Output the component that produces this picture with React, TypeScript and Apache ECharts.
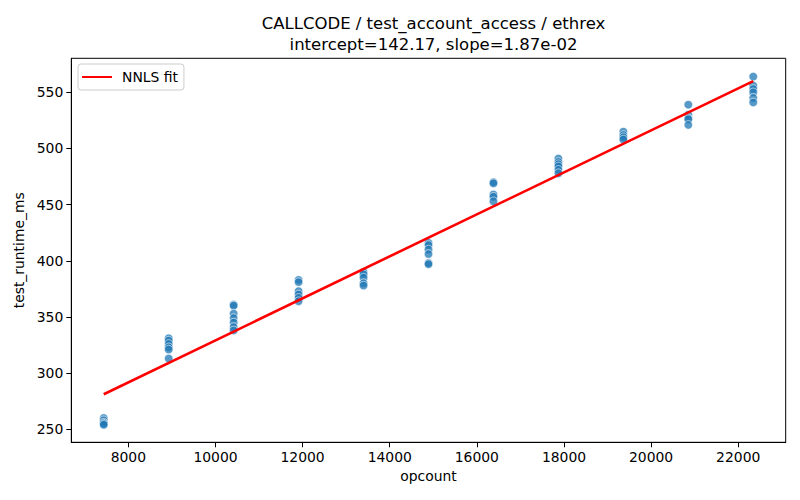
import React, { useEffect, useRef } from "react";
import * as echarts from "echarts";

// opcount levels (x) and measured runtimes (ms) at each level
const opcounts = [7435, 8926, 10417, 11908, 13399, 14890, 16381, 17872, 19363, 20854, 22345];
const runtimes: number[][] = [
  [260, 258, 256, 255, 254],
  [331, 329, 326, 323, 321, 313],
  [361, 360, 353, 349, 345, 341, 338],
  [383, 381, 373, 370, 367, 364],
  [390, 388, 385, 380, 378],
  [416, 414, 410, 406, 398, 397],
  [470, 469, 459, 457, 453],
  [491, 488, 486, 484, 481, 478],
  [515, 512, 510, 508],
  [539, 530, 527, 526, 521],
  [564, 556, 553, 550, 545, 541],
];
const intercept = 142.17;
const slope = 1.87e-2;
const xTicks = [8000, 10000, 12000, 14000, 16000, 18000, 20000, 22000];
const yTicks = [250, 300, 350, 400, 450, 500, 550];

const FONT = "DejaVu Sans";

export default function App() {
  const ref = useRef<HTMLDivElement>(null);
  useEffect(() => {
    document.body.style.margin = "0";
    if (!ref.current) return;
    const chart = echarts.init(ref.current, undefined, { renderer: "svg" });
    const scatterData: number[][] = [];
    opcounts.forEach((x, i) => runtimes[i].forEach((y) => scatterData.push([x, y])));
    const xFirst = opcounts[0];
    const xLast = opcounts[opcounts.length - 1];
    const fitData = [
      [xFirst, intercept + slope * xFirst],
      [xLast, intercept + slope * xLast],
    ];
    chart.setOption({
      animation: false,
      backgroundColor: "#fff",
      textStyle: { fontFamily: FONT },
      title: {
        text: "CALLCODE / test_account_access / ethrex\nintercept=142.17, slope=1.87e-02",
        left: 428.5,
        textAlign: "center",
        top: 8,
        textStyle: { fontFamily: FONT, fontSize: 16.5, fontWeight: "normal", color: "#000", lineHeight: 21 },
      },
      grid: {
        left: 71.3,
        right: 14.3,
        top: 58.3,
        bottom: 57.7,
        show: true,
        borderColor: "#000",
        borderWidth: 1,
        backgroundColor: "transparent",
      },
      legend: {
        left: 78,
        top: 64,
        padding: [6, 6, 6, 4],
        borderColor: "#cccccc",
        borderWidth: 1,
        borderRadius: 3,
        backgroundColor: "rgba(255,255,255,0.8)",
        itemWidth: 30,
        itemHeight: 2,
        itemGap: 10,
        data: [{ name: "NNLS fit", icon: "rect" }],
        textStyle: { fontFamily: FONT, fontSize: 13.9, color: "#000", padding: [0, 0, 0, 5] },
      },
      xAxis: {
        type: "value",
        min: 6690,
        max: 23090,
        name: "opcount",
        nameLocation: "middle",
        nameGap: 27,
        nameTextStyle: { fontFamily: FONT, fontSize: 13.9, color: "#000" },
        axisLine: { show: true, onZero: false, lineStyle: { color: "#000", width: 1 } },
        axisTick: { show: true, length: 5, lineStyle: { color: "#000" }, customValues: xTicks },
        axisLabel: {
          fontFamily: FONT,
          fontSize: 13.9,
          color: "#000",
          margin: 8,
          customValues: xTicks,
          formatter: (v: number) => String(v),
        },
        splitLine: { show: false },
      },
      yAxis: {
        type: "value",
        min: 238.4,
        max: 580.3,
        name: "test_runtime_ms",
        nameLocation: "middle",
        nameGap: 42,
        nameTextStyle: { fontFamily: FONT, fontSize: 13.9, color: "#000" },
        axisLine: { show: true, onZero: false, lineStyle: { color: "#000", width: 1 } },
        axisTick: { show: true, length: 5, lineStyle: { color: "#000" }, customValues: yTicks },
        axisLabel: {
          fontFamily: FONT,
          fontSize: 13.9,
          color: "#000",
          margin: 8,
          customValues: yTicks,
          formatter: (v: number) => String(v),
        },
        splitLine: { show: false },
      },
      series: [
        {
          type: "scatter",
          name: "points",
          data: scatterData,
          symbolSize: 8.5,
          itemStyle: { color: "#1f77b4", opacity: 0.75, borderColor: "#fff", borderWidth: 0.8 },
          z: 2,
        },
        {
          type: "line",
          name: "NNLS fit",
          data: fitData,
          showSymbol: false,
          symbol: "none",
          lineStyle: { color: "#ff0000", width: 2.6 },
          itemStyle: { color: "#ff0000" },
          z: 3,
        },
      ],
    });
    return () => chart.dispose();
  }, []);
  return <div ref={ref} style={{ width: 800, height: 500 }} />;
}
